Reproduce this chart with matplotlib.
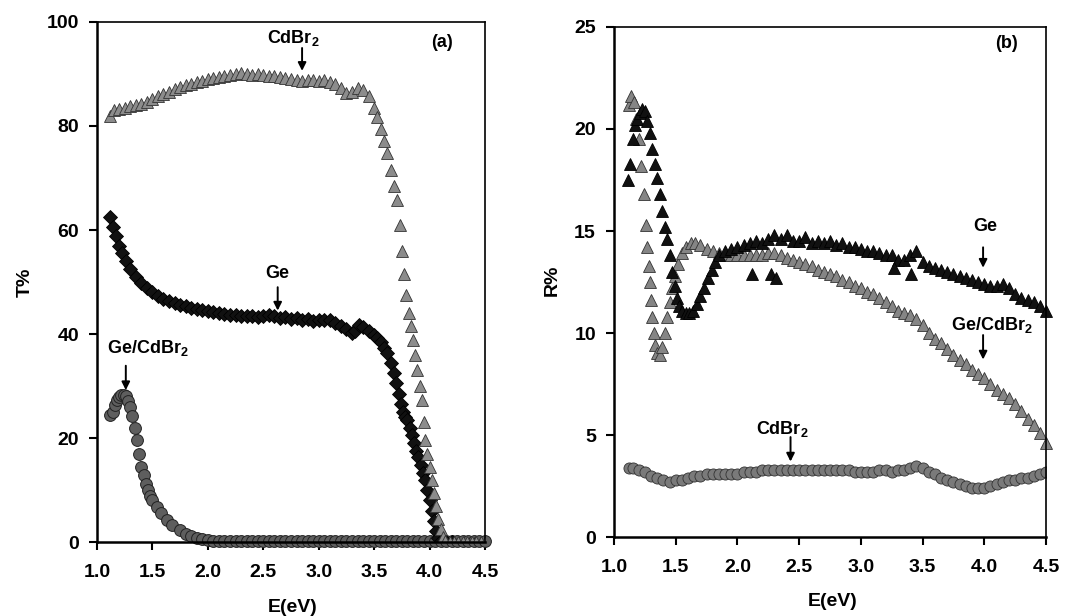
import numpy as np
import matplotlib
matplotlib.use("Agg")
import matplotlib.pyplot as plt

plt.rcParams["font.family"] = ["Liberation Sans", "DejaVu Sans"]
plt.rcParams["font.weight"] = "bold"
plt.rcParams["mathtext.fontset"] = "custom"
plt.rcParams["mathtext.rm"] = "Liberation Sans:bold"
plt.rcParams["mathtext.bf"] = "Liberation Sans:bold"

# ---- panel (a): transmittance T% ----
cdbr2_a_E = [1.12, 1.15, 1.20, 1.25, 1.30, 1.35, 1.40, 1.45, 1.50, 1.55, 1.60, 1.65,
             1.70, 1.75, 1.80, 1.85, 1.90, 1.95, 2.00, 2.05, 2.10, 2.15, 2.20, 2.25,
             2.30, 2.35, 2.40, 2.45, 2.50, 2.55, 2.60, 2.65, 2.70, 2.75, 2.80, 2.85,
             2.90, 2.95, 3.00, 3.05, 3.10, 3.15, 3.20, 3.25, 3.30, 3.35, 3.40, 3.45,
             3.50, 3.53, 3.56, 3.59, 3.62, 3.65, 3.68, 3.71, 3.73, 3.75, 3.77, 3.79,
             3.81, 3.83, 3.85, 3.87, 3.89, 3.91, 3.93, 3.95, 3.96, 3.98, 4.00, 4.02,
             4.04, 4.06, 4.08, 4.10, 4.12, 4.14, 4.18, 4.22, 4.26, 4.30, 4.34, 4.38,
             4.42, 4.46, 4.50]
cdbr2_a_T = [82.0, 83.0, 83.2, 83.5, 83.8, 84.0, 84.3, 84.6, 85.2, 85.7, 86.2, 86.6,
             87.1, 87.5, 87.8, 88.1, 88.4, 88.7, 89.0, 89.3, 89.5, 89.7, 89.9, 90.0,
             90.1, 90.0, 89.9, 90.0, 89.8, 89.7, 89.6, 89.5, 89.3, 89.0, 88.8, 88.6,
             88.8, 88.9, 88.7, 88.8, 88.5, 88.0, 87.3, 86.3, 86.5, 87.3, 86.9, 85.8,
             83.5, 81.8, 79.5, 77.2, 74.8, 71.5, 68.5, 65.8, 61.0, 56.0, 51.5, 47.5,
             44.0, 41.5, 38.8, 36.0, 33.0, 30.0, 27.3, 23.0, 19.6, 17.0, 14.5, 12.0,
             9.5, 7.0, 4.5, 2.5, 1.0, 0.2, 0.0, 0.0, 0.0, 0.0, 0.0, 0.0,
             0.0, 0.0, 0.0]

ge_a_E = [1.12, 1.14, 1.17, 1.20, 1.23, 1.26, 1.30, 1.35, 1.40, 1.45, 1.50, 1.55,
          1.60, 1.65, 1.70, 1.75, 1.80, 1.85, 1.90, 1.95, 2.00, 2.05, 2.10, 2.15,
          2.20, 2.25, 2.30, 2.35, 2.40, 2.45, 2.50, 2.55, 2.60, 2.65, 2.70, 2.75,
          2.80, 2.85, 2.90, 2.95, 3.00, 3.05, 3.10, 3.15, 3.20, 3.25, 3.30, 3.33,
          3.36, 3.40, 3.45, 3.50, 3.53, 3.56, 3.59, 3.62, 3.65, 3.68, 3.70, 3.72,
          3.74, 3.76, 3.78, 3.80, 3.82, 3.84, 3.86, 3.88, 3.90, 3.92, 3.94, 3.96,
          3.98, 4.00, 4.02, 4.04, 4.06, 4.08, 4.10, 4.15, 4.20]
ge_a_T = [62.5, 60.5, 58.8, 57.0, 55.5, 54.0, 52.5, 51.0, 49.8, 48.8, 48.0, 47.4,
          46.8, 46.3, 45.9, 45.6, 45.3, 45.0, 44.8, 44.6, 44.4, 44.2, 44.0, 43.8,
          43.7, 43.6, 43.5, 43.4, 43.5, 43.3, 43.4, 43.6, 43.5, 43.1, 43.3, 42.9,
          43.0, 42.7, 42.8, 42.5, 42.7, 42.6, 42.6, 42.2, 41.6, 41.0, 40.2, 40.5,
          41.7, 41.3, 40.5, 39.8, 39.3, 38.5, 37.3, 36.3, 34.5, 32.5, 30.5, 28.5,
          26.5, 25.0, 24.0, 23.5, 22.0, 20.5, 19.0, 17.5, 16.3, 14.8, 13.3, 12.0,
          10.0, 8.0, 6.0, 4.0, 2.2, 0.8, 0.2, 0.0, 0.0]

gecd_a_E = [1.12, 1.14, 1.16, 1.18, 1.20, 1.22, 1.24, 1.26, 1.28, 1.30, 1.32, 1.34,
            1.36, 1.38, 1.40, 1.42, 1.44, 1.46, 1.48, 1.50, 1.54, 1.58, 1.63, 1.68,
            1.75, 1.80, 1.85, 1.90, 1.95, 2.00, 2.05, 2.10, 2.15, 2.20, 2.25, 2.30,
            2.35, 2.40, 2.45, 2.50, 2.55, 2.60, 2.65, 2.70, 2.75, 2.80, 2.85, 2.90,
            2.95, 3.00, 3.05, 3.10, 3.15, 3.20, 3.25, 3.30, 3.35, 3.40, 3.45, 3.50,
            3.55, 3.60, 3.65, 3.70, 3.75, 3.80, 3.85, 3.90, 3.95, 4.00, 4.05, 4.10,
            4.15, 4.20, 4.25, 4.30, 4.35, 4.40, 4.45, 4.50]
gecd_a_T = [24.4, 25.0, 26.3, 27.3, 27.9, 28.2, 28.3, 28.0, 27.2, 26.0, 24.2, 22.0,
            19.6, 17.0, 14.5, 12.8, 11.2, 10.0, 8.9, 8.0, 6.8, 5.5, 4.2, 3.2,
            2.3, 1.6, 1.2, 0.8, 0.5, 0.3, 0.2, 0.2, 0.1, 0.1, 0.1, 0.1,
            0.1, 0.1, 0.1, 0.1, 0.1, 0.1, 0.1, 0.1, 0.1, 0.1, 0.1, 0.1,
            0.1, 0.1, 0.1, 0.1, 0.1, 0.1, 0.1, 0.1, 0.1, 0.1, 0.1, 0.1,
            0.1, 0.1, 0.1, 0.1, 0.1, 0.1, 0.1, 0.1, 0.1, 0.1, 0.1, 0.1,
            0.1, 0.1, 0.1, 0.1, 0.1, 0.1, 0.1, 0.1]

# ---- panel (b): reflectance R% ----
ge_b_E = [1.11, 1.13, 1.15, 1.17, 1.19, 1.21, 1.23, 1.25, 1.27, 1.29, 1.31, 1.33,
          1.35, 1.37, 1.39, 1.41, 1.43, 1.45, 1.47, 1.49, 1.51, 1.53, 1.55, 1.58,
          1.61, 1.64, 1.67, 1.70, 1.73, 1.76, 1.79, 1.82, 1.85, 1.90, 1.95, 2.00,
          2.05, 2.10, 2.15, 2.20, 2.25, 2.30, 2.35, 2.40, 2.45, 2.50, 2.55, 2.60,
          2.65, 2.70, 2.75, 2.80, 2.85, 2.90, 2.95, 3.00, 3.05, 3.10, 3.15, 3.20,
          3.25, 3.30, 3.35, 3.40, 3.45, 3.50, 3.55, 3.60, 3.65, 3.70, 3.75, 3.80,
          3.85, 3.90, 3.95, 4.00, 4.05, 4.10, 4.15, 4.20, 4.25, 4.30, 4.35, 4.40,
          4.45, 4.50, 2.12, 2.27, 2.31, 3.27, 3.41]
ge_b_R = [17.5, 18.3, 19.5, 20.2, 20.5, 20.8, 21.0, 20.9, 20.4, 19.8, 19.0, 18.3,
          17.6, 16.8, 16.0, 15.2, 14.6, 13.8, 13.0, 12.3, 11.7, 11.3, 11.1, 11.0,
          11.0, 11.1, 11.4, 11.8, 12.2, 12.7, 13.1, 13.5, 13.8, 14.0, 14.1, 14.2,
          14.3, 14.4, 14.5, 14.4, 14.6, 14.8, 14.6, 14.8, 14.5, 14.5, 14.7, 14.4,
          14.5, 14.4, 14.5, 14.3, 14.4, 14.2, 14.2, 14.1, 14.0, 14.0, 13.9, 13.8,
          13.8, 13.6, 13.6, 13.8, 14.0, 13.5, 13.3, 13.2, 13.1, 13.0, 12.9, 12.8,
          12.7, 12.6, 12.5, 12.4, 12.3, 12.3, 12.4, 12.2, 11.9, 11.7, 11.6, 11.5,
          11.3, 11.1, 12.9, 12.9, 12.7, 13.2, 12.9]

gecd_b_E = [1.12, 1.14, 1.16, 1.18, 1.20, 1.22, 1.24, 1.26, 1.27, 1.28, 1.29, 1.30,
            1.31, 1.32, 1.33, 1.35, 1.37, 1.39, 1.41, 1.43, 1.45, 1.47, 1.49, 1.52,
            1.55, 1.58, 1.62, 1.66, 1.70, 1.75, 1.80, 1.85, 1.90, 1.95, 2.00, 2.05,
            2.10, 2.15, 2.20, 2.25, 2.30, 2.35, 2.40, 2.45, 2.50, 2.55, 2.60, 2.65,
            2.70, 2.75, 2.80, 2.85, 2.90, 2.95, 3.00, 3.05, 3.10, 3.15, 3.20, 3.25,
            3.30, 3.35, 3.40, 3.45, 3.50, 3.55, 3.60, 3.65, 3.70, 3.75, 3.80, 3.85,
            3.90, 3.95, 4.00, 4.05, 4.10, 4.15, 4.20, 4.25, 4.30, 4.35, 4.40, 4.45,
            4.50]
gecd_b_R = [21.2, 21.6, 21.3, 20.5, 19.5, 18.2, 16.8, 15.3, 14.2, 13.3, 12.5, 11.6,
            10.8, 10.0, 9.4, 9.0, 8.9, 9.3, 10.0, 10.8, 11.5, 12.2, 12.8, 13.4,
            13.9, 14.2, 14.4, 14.4, 14.3, 14.1, 14.0, 13.9, 13.8, 13.8, 13.8, 13.8,
            13.8, 13.8, 13.8, 13.9, 13.9, 13.8, 13.7, 13.6, 13.5, 13.4, 13.3, 13.1,
            13.0, 12.9, 12.8, 12.6, 12.5, 12.3, 12.2, 12.0, 11.9, 11.7, 11.5, 11.3,
            11.1, 11.0, 10.9, 10.7, 10.4, 10.0, 9.7, 9.5, 9.2, 8.9, 8.7, 8.5,
            8.2, 8.0, 7.8, 7.5, 7.2, 7.0, 6.8, 6.5, 6.2, 5.8, 5.5, 5.1,
            4.6]

cdbr2_b_E = [1.12, 1.15, 1.20, 1.25, 1.30, 1.35, 1.40, 1.45, 1.50, 1.55, 1.60, 1.65,
             1.70, 1.75, 1.80, 1.85, 1.90, 1.95, 2.00, 2.05, 2.10, 2.15, 2.20, 2.25,
             2.30, 2.35, 2.40, 2.45, 2.50, 2.55, 2.60, 2.65, 2.70, 2.75, 2.80, 2.85,
             2.90, 2.95, 3.00, 3.05, 3.10, 3.15, 3.20, 3.25, 3.30, 3.35, 3.40, 3.45,
             3.50, 3.55, 3.60, 3.65, 3.70, 3.75, 3.80, 3.85, 3.90, 3.95, 4.00, 4.05,
             4.10, 4.15, 4.20, 4.25, 4.30, 4.35, 4.40, 4.45, 4.50]
cdbr2_b_R = [3.4, 3.4, 3.3, 3.2, 3.0, 2.9, 2.8, 2.7, 2.8, 2.8, 2.9, 3.0,
             3.0, 3.1, 3.1, 3.1, 3.1, 3.1, 3.1, 3.2, 3.2, 3.2, 3.3, 3.3,
             3.3, 3.3, 3.3, 3.3, 3.3, 3.3, 3.3, 3.3, 3.3, 3.3, 3.3, 3.3,
             3.3, 3.2, 3.2, 3.2, 3.2, 3.3, 3.3, 3.2, 3.3, 3.3, 3.4, 3.5,
             3.4, 3.2, 3.1, 2.9, 2.8, 2.7, 2.6, 2.5, 2.4, 2.4, 2.4, 2.5,
             2.6, 2.7, 2.8, 2.8, 2.9, 2.9, 3.0, 3.1, 3.2]

x_ticks = [1.0, 1.5, 2.0, 2.5, 3.0, 3.5, 4.0, 4.5]
ta_ticks = [0, 20, 40, 60, 80, 100]
rb_ticks = [0, 5, 10, 15, 20, 25]

SUB = r"CdBr$_{\mathbf{2}}$"
GSUB = r"Ge/CdBr$_{\mathbf{2}}$"
FS_TICK = 14
FS_NOTE = 13
FS_LABEL = 14


def style_axes(ax, yticks):
    ax.set_xlim(1.0, 4.5)
    ax.set_xticks(x_ticks)
    ax.set_xticklabels([f"{t:.1f}" for t in x_ticks])
    ax.set_ylim(yticks[0], yticks[-1])
    ax.set_yticks(yticks)
    ax.tick_params(direction="out", length=6, width=1.5, labelsize=FS_TICK,
                   top=False, right=False)
    ax.tick_params(axis="x", pad=10)
    ax.tick_params(axis="y", pad=7)
    for side in ("left", "bottom"):
        ax.spines[side].set_linewidth(1.8)
    for side in ("top", "right"):
        ax.spines[side].set_linewidth(1.2)
    for lab in ax.get_xticklabels() + ax.get_yticklabels():
        lab.set_fontweight("bold")


def arrow(ax, x, y0, y1):
    ax.annotate("", xy=(x, y1), xytext=(x, y0),
                arrowprops=dict(arrowstyle="-|>", color="k", lw=1.4,
                                mutation_scale=12, shrinkA=0, shrinkB=0))


def labels(ax, ylab, xpos, ypos):
    ax.set_xlabel("E(eV)", fontsize=FS_LABEL, fontweight="bold", va="center")
    ax.set_ylabel(ylab, fontsize=FS_LABEL, fontweight="bold", va="center")
    ax.xaxis.set_label_coords(*xpos)
    ax.yaxis.set_label_coords(*ypos)


fig = plt.figure(figsize=(10.86, 6.16), dpi=100)
ax1 = fig.add_axes([0.0893, 0.1201, 0.3573, 0.8442])
ax2 = fig.add_axes([0.5654, 0.1282, 0.3978, 0.8280])

# panel (a)
ax1.plot(gecd_a_E, gecd_a_T, ls="none", marker="o", ms=8.5, mfc="#5e5e5e",
         mec="#222222", mew=0.7, clip_on=False)
ax1.plot(ge_a_E, ge_a_T, ls="none", marker="D", ms=7.5, mfc="#111111",
         mec="#000000", mew=0.6)
ax1.plot(cdbr2_a_E, cdbr2_a_T, ls="none", marker="^", ms=8.5, mfc="#8c8c8c",
         mec="#333333", mew=0.6)
style_axes(ax1, ta_ticks)
labels(ax1, "T%", (0.505, -0.125), (-0.186, 0.5))
ax1.text(4.11, 96, "(a)", fontsize=FS_NOTE, fontweight="bold", ha="center", va="center")
ax1.text(2.77, 97.0, SUB, fontsize=FS_NOTE, fontweight="bold", ha="center", va="center")
arrow(ax1, 2.85, 95.0, 90.6)
ax1.text(2.63, 51.7, "Ge", fontsize=FS_NOTE, fontweight="bold", ha="center", va="center")
arrow(ax1, 2.63, 49.0, 44.5)
ax1.text(1.09, 37.3, GSUB, fontsize=FS_NOTE, fontweight="bold", ha="left", va="center")
arrow(ax1, 1.26, 33.9, 29.2)

# panel (b)
ax2.plot(cdbr2_b_E, cdbr2_b_R, ls="none", marker="o", ms=8, mfc="#7a7a7a",
         mec="#333333", mew=0.6)
ax2.plot(gecd_b_E, gecd_b_R, ls="none", marker="^", ms=8.5, mfc="#858585",
         mec="#333333", mew=0.6, clip_on=False)
ax2.plot(ge_b_E, ge_b_R, ls="none", marker="^", ms=8.5, mfc="#111111",
         mec="#000000", mew=0.6, clip_on=False)
style_axes(ax2, rb_ticks)
labels(ax2, "R%", (0.507, -0.127), (-0.144, 0.504))
ax2.text(4.18, 24.2, "(b)", fontsize=FS_NOTE, fontweight="bold", ha="center", va="center")
ax2.text(4.01, 15.2, "Ge", fontsize=FS_NOTE, fontweight="bold", ha="center", va="center")
arrow(ax2, 3.99, 14.2, 13.2)
ax2.text(4.06, 10.4, GSUB, fontsize=FS_NOTE, fontweight="bold", ha="center", va="center")
arrow(ax2, 3.99, 9.9, 8.7)
ax2.text(2.36, 5.3, SUB, fontsize=FS_NOTE, fontweight="bold", ha="center", va="center")
arrow(ax2, 2.43, 4.9, 3.7)

fig.savefig("out.png", dpi=100)
